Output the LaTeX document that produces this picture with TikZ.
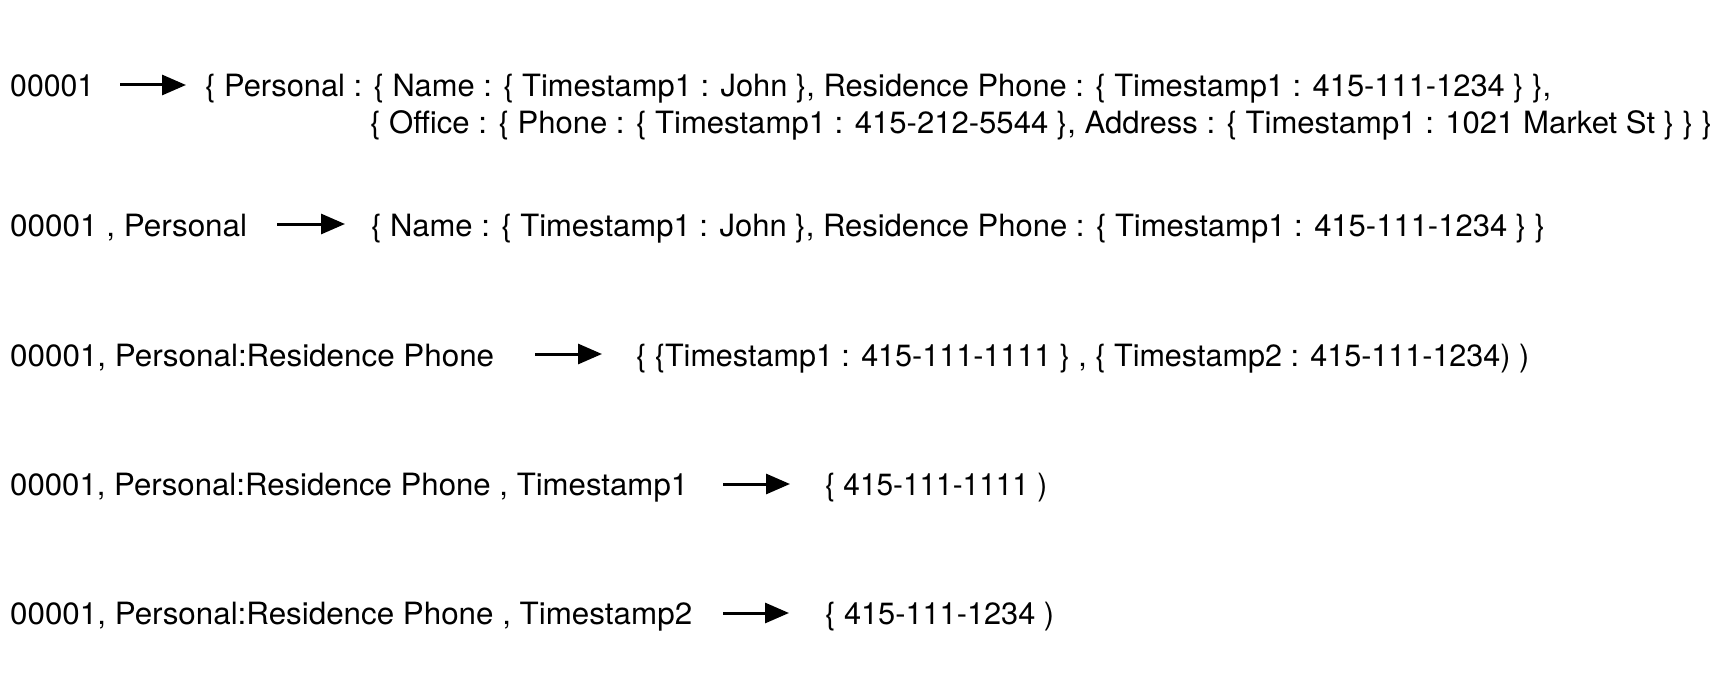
\documentclass[tikz,border=0pt]{standalone}
\usepackage{fontspec}
\usepackage{graphicx}
\setmainfont{TeX Gyre Heros}
\usetikzlibrary{arrows.meta}
\newsavebox\fitbox
\newcommand\fitto[2]{\sbox\fitbox{#2}\pgfmathsetmacro\fitfac{#1/\wd\fitbox}\scalebox{\fitfac}[1]{\usebox\fitbox}}
\begin{document}
\begin{tikzpicture}[x=1pt,y=-1pt,
  txt/.style={anchor=base west,inner sep=0pt,text height=23pt,text depth=0pt,font=\fontsize{30.7}{36}\selectfont},
  arr/.style={line width=3pt,-{Triangle[length=24pt,width=20pt]}}]
\useasboundingbox (0,0) rectangle (1728,674);
% row 1
\node[txt] (k1) at (10,97) {\fitto{84}{00001}};
\node[txt] (v1) at (205,97) {\fitto{1346}{\{ Personal : \{ Name : \{ Timestamp1 : John \}, Residence Phone : \{ Timestamp1 : 415-111-1234 \} \},}};
\node[txt] (v1b) at (370,134) {\fitto{1342}{\{ Office : \{ Phone : \{ Timestamp1 : 415-212-5544 \}, Address : \{ Timestamp1 : 1021 Market St \} \} \}}};
\coordinate (a1s) at (120,85);
\coordinate (a1e) at (186,85);
\draw[arr] (a1s) -- (a1e);
% row 2
\node[txt] (k2) at (10,236) {\fitto{237}{00001 , Personal}};
\node[txt] (v2) at (371,236) {\fitto{1174}{\{ Name : \{ Timestamp1 : John \}, Residence Phone : \{ Timestamp1 : 415-111-1234 \} \}}};
\coordinate (a2s) at (277,224);
\coordinate (a2e) at (345,224);
\draw[arr] (a2s) -- (a2e);
% row 3
\node[txt] (k3) at (10,366) {\fitto{484}{00001, Personal:Residence Phone}};
\node[txt] (v3) at (636,366) {\fitto{893}{\{ \{Timestamp1 : 415-111-1111 \} , \{ Timestamp2 : 415-111-1234) )}};
\coordinate (a3s) at (535,354);
\coordinate (a3e) at (602,354);
\draw[arr] (a3s) -- (a3e);
% row 4
\node[txt] (k4) at (10,495) {\fitto{678}{00001, Personal:Residence Phone , Timestamp1}};
\node[txt] (v4) at (825,495) {\fitto{222}{\{ 415-111-1111 )}};
\coordinate (a4s) at (723,484);
\coordinate (a4e) at (790,484);
\draw[arr] (a4s) -- (a4e);
% row 5
\node[txt] (k5) at (10,624) {\fitto{682}{00001, Personal:Residence Phone , Timestamp2}};
\node[txt] (v5) at (825,624) {\fitto{229}{\{ 415-111-1234 )}};
\coordinate (a5s) at (723,613);
\coordinate (a5e) at (789,613);
\draw[arr] (a5s) -- (a5e);
\end{tikzpicture}
\end{document}
